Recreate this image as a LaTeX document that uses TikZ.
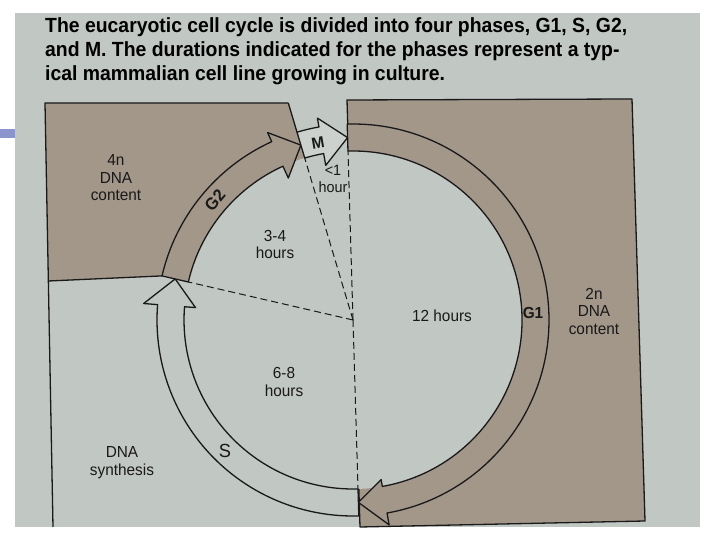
\documentclass[tikz,border=0pt]{standalone}
\usepackage{fontspec}
\setmainfont{Liberation Sans}
\newfontfamily\titlefont[FakeStretch=0.946]{Liberation Sans}
\newfontfamily\labelfont[FakeStretch=0.96]{Liberation Sans}
\usepackage{xcolor}
\usepackage{tikz}
\usetikzlibrary{calc,positioning}

\definecolor{page}{RGB}{193,199,195}
\definecolor{cellbrown}{RGB}{163,151,138}
\definecolor{mlight}{RGB}{205,209,205}
\definecolor{inkline}{RGB}{25,25,25}
\definecolor{slidebar}{RGB}{140,148,205}

\begin{document}
\begin{tikzpicture}[
    x=1pt, y=1pt,
    outline/.style={draw=inkline, line width=1.3pt, line join=round},
    spoke/.style={draw=inkline, line width=1pt, dash pattern=on 7pt off 4pt},
    caption/.style={
      font=\titlefont\bfseries\fontsize{20.5}{24}\selectfont,
      anchor=base west, inner sep=0pt, text=black
    },
    label/.style={
      font=\labelfont\fontsize{16}{17.5}\selectfont,
      align=center, inner sep=0pt, text=inkline
    },
    phase/.style={
      font=\labelfont\bfseries\fontsize{16}{16}\selectfont,
      inner sep=0pt, text=inkline
    }
  ]
    \useasboundingbox (0,0) rectangle (720,540);
    \fill[white] (0,0) rectangle (720,540);
    \fill[page] (15,13) rectangle (700,527);
    \fill[slidebar] (0,402) rectangle (15,411);

    % caption above the figure
    \node[caption] (title1) at (45,507) {The eucaryotic cell cycle is divided into four phases, G1, S, G2,};
    \node[caption] (title2) at (45,483) {and M. The durations indicated for the phases represent a typ-};
    \node[caption] (title3) at (45,459) {ical mammalian cell line growing in culture.};

    \coordinate (hub) at (353,220);

    % right box: 2n
    \coordinate (rtl) at (347,440);
    \coordinate (rtr) at (632,441);
    \coordinate (rbr) at (645,19);
    \coordinate (rbl) at (360,13);
    \filldraw[outline, fill=cellbrown] (rtl) -- (rtr) -- (rbr) -- (rbl) -- cycle;

    % left box: 4n above, synthesis below
    \coordinate (ltl) at (45,437);
    \coordinate (ltr) at (288.3,437);
    \coordinate (lmid) at (48.4,259);
    \coordinate (lbl) at (53,13);
    \fill[cellbrown] (ltl) -- (ltr) -- ($(hub)+(106.6:169)$)
      arc[start angle=106.6, end angle=167, radius=169]
      -- ($(hub)+(167:196)$) -- (lmid) -- cycle;
    \draw[outline] (ltr) -- (ltl) -- (lbl);
    \draw[outline] (lmid) -- ($(hub)+(167:196)$);
    \draw[outline] (ltr) -- ($(hub)+(106.6:196)$);

    \fill[page] (hub) circle[radius=169];

    % phase arrows G1, S, G2, M
    \foreach \from/\base/\tip/\barbin/\barbout/\shade in {
        91.7/-80/-88.3/162/208/cellbrown,
        271.7/175.5/167/158/210/page,
        167/114.5/106.6/156/206/cellbrown,
        106.6/100/91.7/157/205/mlight}
      \filldraw[outline, fill=\shade] ($(hub)+(\from:196)$)
        arc[start angle=\from, end angle=\base, radius=196]
        -- ($(hub)+(\base:\barbout)$) -- ($(hub)+(\tip:182.5)$)
        -- ($(hub)+(\base:\barbin)$) -- ($(hub)+(\base:169)$)
        arc[start angle=\base, end angle=\from, radius=169] -- cycle;

    \foreach \ang in {91.7,106.6,167,271.7}
      \draw[spoke] (hub) -- ($(hub)+(\ang:169)$);

    % labels
    \node[label] (fourn) at (116,362) {4n\\DNA\\content};
    \node[label] (synth) at (122,77.5) {DNA\\synthesis};
    \node[label] (gtwotime) at (275,295.5) {3-4\\hours};
    \node[label] (stime) at (284,158) {6-8\\hours};
    \node[label] (gonetime) at (442,224) {12 hours};
    \node[label] (twon) at (594,229) {2n\\DNA\\content};
    \node[label, font=\labelfont\fontsize{15}{17}\selectfont] (mtime) at (333,361.5) {<1\\hour};
    \node[phase, rotate=50, font=\labelfont\bfseries\fontsize{17}{17}\selectfont] (gtwo) at (215,340) {G2};
    \node[phase, rotate=10] (mname) at (318,397) {M};
    \node[phase] (gone) at (533,227) {G1};
    \node[label, font=\labelfont\fontsize{19}{19}\selectfont] (sname) at (225,89) {S};
\end{tikzpicture}
\end{document}
